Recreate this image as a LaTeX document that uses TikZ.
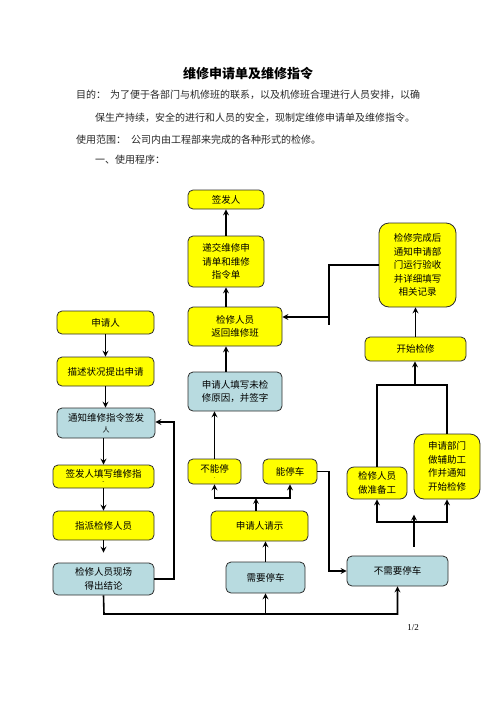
\documentclass[tikz,border=0pt]{standalone}
\usepackage{fontspec}
\setmainfont{Liberation Serif}
\newfontfamily\cjk{Noto Sans CJK SC}
\usetikzlibrary{arrows}
\definecolor{boxyellow}{RGB}{255,255,0}
\definecolor{boxblue}{RGB}{184,219,224}
\definecolor{boxline}{RGB}{45,45,45}

\begin{document}
\begin{tikzpicture}[x=1pt,y=-1pt,
		ybox/.style={draw=boxline, line width=0.8pt, fill=boxyellow, rounded corners=5pt,
			inner sep=1pt, align=center, font=\cjk\fontsize{9.5}{13.5}\selectfont},
		bbox/.style={ybox, fill=boxblue},
		arrow/.style={-stealth, line width=1.6pt},
		line/.style={line width=1.6pt},
		bodytext/.style={anchor=west, inner sep=0pt, text=black!85, font=\cjk\fontsize{10}{12}\selectfont}
	]
		\useasboundingbox (0,0) rectangle (496,702);
		% heading and text
		\node[inner sep=0pt, font=\cjk\bfseries\fontsize{13}{15}\selectfont] (title) at (248,74) {维修申请单及维修指令};
		\node[bodytext] (aim) at (76,95) {目的：\hspace{4pt}为了便于各部门与机修班的联系，以及机修班合理进行人员安排，以确};
		\node[bodytext] (aim2) at (95,118) {保生产持续，安全的进行和人员的安全，现制定维修申请单及维修指令。};
		\node[bodytext] (range) at (76,140) {使用范围：\hspace{5pt}公司内由工程部来完成的各种形式的检修。};
		\node[bodytext] (proc) at (95,160) {一、使用程序：};

		% left column
		\node[ybox, minimum width=97, minimum height=23] (sqr) at (105.5,322.5) {申请人};
		\node[ybox, minimum width=97, minimum height=29] (ms) at (105.5,371.5) {描述状况提出申请};
		\node[bbox, minimum width=98, minimum height=30] (tz) at (106,423) {通知维修指令签发\\[-3pt]{\fontsize{7}{7}\selectfont 人}};
		\node[ybox, minimum width=101, minimum height=23] (tx) at (103.5,476.5) {签发人填写维修指\\[-7pt]{\fontsize{6}{6}\selectfont -}};
		\node[ybox, minimum width=101, minimum height=29] (zp) at (103.5,525.5) {指派检修人员};
		\node[bbox, minimum width=101, minimum height=32] (xc) at (103.5,579) {检修人员现场\\得出结论};

		% middle column
		\node[ybox, minimum width=76, minimum height=19] (qfr) at (226,199.5) {签发人};
		\node[ybox, minimum width=76, minimum height=51] (dj) at (226,261.5) {递交维修申\\请单和维修\\指令单};
		\node[ybox, minimum width=94, minimum height=39] (fh) at (235,326.5) {检修人员\\返回维修班};
		\node[bbox, minimum width=94, minimum height=39] (wj) at (235,391.5) {申请人填写未检\\修原因，并签字};
		\node[ybox, minimum width=53, minimum height=25] (bnt) at (214.5,471.5) {不能停\\[-7pt]{\fontsize{6}{6}\selectfont .}};
		\node[ybox, minimum width=54, minimum height=25] (nt) at (290,471.5) {能停车};
		\node[ybox, minimum width=97, minimum height=30] (qs) at (259.5,526) {申请人请示};
		\node[bbox, minimum width=79, minimum height=31] (xy) at (265.5,577.5) {需要停车};

		% right column
		\node[ybox, minimum width=77, minimum height=84, rounded corners=10pt] (wc) at (417.5,265) {检修完成后\\通知申请部\\门运行验收\\并详细填写\\相关记录};
		\node[ybox, minimum width=101, minimum height=24] (ks) at (415.5,349) {开始检修};
		\node[ybox, minimum width=60, minimum height=32, rounded corners=7pt] (zb) at (377,483) {检修人员\\做准备工};
		\node[ybox, minimum width=66, minimum height=65, rounded corners=10pt] (fz) at (447,466.5) {申请部门\\做辅助工\\作并通知\\开始检修};
		\node[bbox, minimum width=101, minimum height=30] (bxy) at (397.5,571) {不需要停车};

		\node[inner sep=0pt, font=\fontsize{9}{11}\selectfont] (page) at (413,628) {1/2};

		% junction points
		\coordinate (jw) at (329,317);
		\coordinate (jwe) at (329,325);
		\coordinate (jm) at (415,385);
		\coordinate (js) at (414,522);
		\coordinate (jn) at (329,571);
		\coordinate (jq) at (256,498);
		\coordinate (jb) at (104,614);
		\coordinate (jl) at (174,422);

		% left column arrows
		\draw[arrow] (sqr.south) -- (sqr.south |- ms.north);
		\draw[arrow] (ms.south) -- (ms.south |- tz.north);
		\draw[arrow] (tz.south -| tx) -- (tx.north);
		\draw[arrow] (tx.south) -- (zp.north);
		\draw[arrow, shorten >=10pt] (zp.south) -- (xc.north);
		\draw[arrow] (xc.east) -| (jl) -- (jl -| tz.east);
		\draw[arrow] (xc.south) -- (jb) -| (bxy.south);
		\draw[arrow] (xy.south |- jb) -- (xy.south);

		% middle column arrows
		\draw[arrow] (dj.north) -- (qfr.south);
		\draw[arrow] (fh.north -| dj) -- (dj.south);
		\draw[arrow] (wj.north -| dj) -- (fh.south -| dj);
		\draw[arrow] (bnt.north) -- (bnt.north |- wj.south);
		\draw[arrow] (xy.north) -- (xy.north |- qs.south);
		\draw[arrow] (qs.north -| jq) -- (jq);
		\draw[arrow] (jq) -| (bnt.south);
		\draw[arrow] (jq) -| (nt.south);
		\draw[arrow] (nt.east) -| (jn) -- (bxy.west);

		% right column arrows
		\draw[line] (wc.west) -| (jwe);
		\draw[arrow] (jw) -- (jw -| fh.east);
		\draw[arrow] (ks.north) -- (ks.north |- wc.south);
		\draw[line] (zb.north) |- (jm) -| (fz.north);
		\draw[arrow] (jm) -- (jm |- ks.south);
		\draw[arrow, shorten <=9pt] (bxy.north -| js) -- ++(0,-41);
		\draw[arrow] (js) -| (zb.south);
		\draw[arrow] (js) -| (fz.south);
	\end{tikzpicture}
\end{document}
